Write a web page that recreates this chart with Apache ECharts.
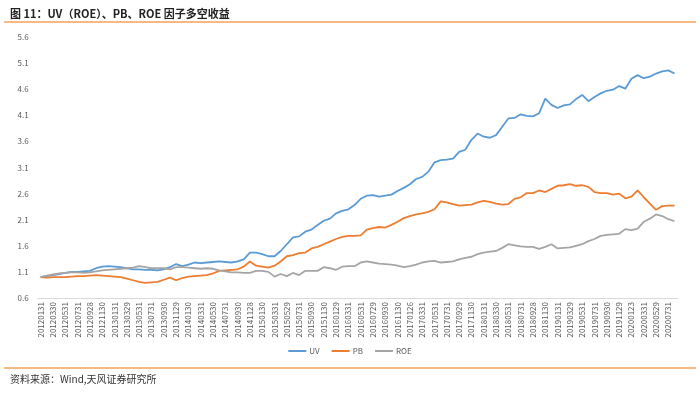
<!DOCTYPE html>
<html>
<head>
<meta charset="UTF-8">
<title>UV PB ROE</title>
<script src="https://cdn.jsdelivr.net/npm/echarts@6/dist/echarts.min.js"></script>
<style>
  html, body { margin: 0; padding: 0; background: #fff; }
  #main { width: 700px; height: 396px; }
</style>
</head>
<body>
<div id="main"></div>
<script type="text/javascript">
// month-end dates
var dates = [
  '20120131','20120229','20120330','20120427','20120531','20120629','20120731','20120831','20120928','20121031','20121130','20121231',
  '20130131','20130228','20130329','20130426','20130531','20130628','20130731','20130830','20130930','20131031','20131129','20131231',
  '20140130','20140228','20140331','20140430','20140530','20140630','20140731','20140829','20140930','20141031','20141128','20141231',
  '20150130','20150227','20150331','20150430','20150529','20150630','20150731','20150831','20150930','20151030','20151130','20151231',
  '20160129','20160229','20160331','20160429','20160531','20160630','20160729','20160831','20160930','20161031','20161130','20161230',
  '20170126','20170228','20170331','20170428','20170531','20170630','20170731','20170831','20170929','20171031','20171130','20171229',
  '20180131','20180228','20180330','20180427','20180531','20180629','20180731','20180831','20180928','20181031','20181130','20181228',
  '20190131','20190228','20190329','20190430','20190531','20190628','20190731','20190830','20190930','20191031','20191129','20191231',
  '20200123','20200228','20200331','20200430','20200529','20200630','20200731','20200831'
];

var uv = [
  1.00,1.02,1.04,1.06,1.08,1.10,1.10,1.11,1.12,1.17,1.20,1.21,
  1.20,1.19,1.17,1.15,1.15,1.14,1.14,1.13,1.15,1.19,1.25,1.21,
  1.24,1.28,1.27,1.28,1.29,1.30,1.29,1.28,1.30,1.34,1.47,1.47,
  1.44,1.40,1.40,1.50,1.63,1.76,1.78,1.87,1.91,2.00,2.08,2.12,
  2.22,2.27,2.30,2.38,2.50,2.56,2.57,2.54,2.56,2.58,2.65,2.71,
  2.78,2.88,2.92,3.02,3.20,3.24,3.25,3.27,3.40,3.44,3.63,3.75,
  3.69,3.67,3.72,3.88,4.04,4.05,4.12,4.09,4.08,4.14,4.42,4.30,
  4.24,4.29,4.31,4.41,4.49,4.37,4.45,4.52,4.57,4.59,4.66,4.61,
  4.80,4.87,4.81,4.84,4.90,4.94,4.96,4.90
];

var pb = [
  1.00,0.99,1.00,1.00,1.00,1.01,1.02,1.02,1.03,1.04,1.03,1.02,
  1.01,1.00,0.97,0.94,0.91,0.89,0.90,0.91,0.95,0.99,0.94,0.98,
  1.01,1.02,1.03,1.04,1.07,1.12,1.13,1.14,1.15,1.20,1.30,1.22,
  1.20,1.18,1.22,1.30,1.40,1.42,1.46,1.47,1.55,1.58,1.63,1.68,
  1.73,1.77,1.79,1.79,1.80,1.91,1.94,1.96,1.95,2.00,2.06,2.13,
  2.17,2.20,2.22,2.25,2.30,2.45,2.43,2.40,2.37,2.38,2.39,2.43,
  2.46,2.44,2.41,2.39,2.40,2.50,2.53,2.61,2.61,2.66,2.63,2.69,
  2.75,2.76,2.78,2.75,2.76,2.73,2.63,2.61,2.61,2.58,2.60,2.51,
  2.54,2.66,2.53,2.41,2.29,2.36,2.37,2.37
];

var roe = [
  1.00,1.03,1.05,1.07,1.08,1.09,1.09,1.08,1.09,1.11,1.13,1.14,
  1.15,1.16,1.17,1.18,1.21,1.19,1.17,1.17,1.17,1.15,1.19,1.19,
  1.18,1.17,1.16,1.17,1.16,1.13,1.11,1.09,1.09,1.08,1.08,1.12,
  1.12,1.10,1.01,1.06,1.02,1.08,1.04,1.12,1.12,1.12,1.19,1.17,
  1.14,1.20,1.21,1.21,1.28,1.30,1.28,1.26,1.25,1.24,1.22,1.19,
  1.21,1.24,1.28,1.30,1.31,1.28,1.29,1.30,1.34,1.37,1.39,1.44,
  1.47,1.49,1.50,1.56,1.63,1.61,1.59,1.58,1.58,1.54,1.58,1.63,
  1.55,1.56,1.57,1.60,1.63,1.69,1.73,1.79,1.81,1.82,1.83,1.92,
  1.90,1.93,2.06,2.12,2.20,2.17,2.11,2.07
];

var names = ['UV', 'PB', 'ROE'];
var colors = ['#5B9BD5', '#ED7D31', '#A5A5A5'];

var chart = echarts.init(document.getElementById('main'));
chart.setOption({
	animation : false,
	textStyle : {
		fontFamily : '"Noto Sans CJK SC", "DejaVu Sans", sans-serif'
	},
	title : {
		left : 5,
		top : 3,
		text : '{b|图 }{n|11：UV（ROE）、PB、ROE }{b|因子多空收益}',
		textStyle : {
			rich : {
				b : { fontSize : 11, fontWeight : 'bold', color : '#222' },
				n : { fontSize : 11, color : '#222' }
			}
		}
	},
	graphic : [ {
		type : 'line',
		shape : { x1 : 4, y1 : 22, x2 : 696, y2 : 22 },
		style : { stroke : '#F4A259', lineWidth : 1.5 }
	}, {
		type : 'line',
		shape : { x1 : 4, y1 : 368, x2 : 696, y2 : 368 },
		style : { stroke : '#F4A259', lineWidth : 1.5 }
	}, {
		type : 'text',
		left : 10,
		top : 374,
		style : {
			text : '资料来源：Wind,天风证券研究所',
			fontSize : 10,
			fill : '#333',
			fontFamily : '"Noto Sans CJK SC", sans-serif'
		}
	} ],
	color : colors,
	legend : {
		data : names,
		bottom : 36,
		left : 'center',
		itemWidth : 18,
		itemHeight : 2,
		itemGap : 12,
		icon : 'rect',
		textStyle : { fontSize : 8, color : '#595959', padding : [0, 0, 0, -2] }
	},
	grid : {
		left : 37.6,
		right : 22.4,
		top : 37,
		bottom : 98
	},
	xAxis : {
		type : 'category',
		boundaryGap : true,
		data : dates,
		axisLine : { lineStyle : { color : '#D9D9D9', width : 1 } },
		axisTick : { show : false },
		axisLabel : {
			interval : 1,
			rotate : 90,
			fontSize : 8,
			color : '#595959',
			margin : 4
		}
	},
	yAxis : {
		type : 'value',
		min : 0.6,
		max : 5.6,
		interval : 0.5,
		splitLine : { show : false },
		axisLine : { show : false },
		axisTick : { show : false },
		axisLabel : {
			fontSize : 8,
			color : '#595959',
			margin : 9,
			formatter : function(v) { return v.toFixed(1); }
		}
	},
	series : [ {
		name : 'UV',
		type : 'line',
		data : uv,
		symbol : 'none',
		lineStyle : { width : 1.8 }
	}, {
		name : 'PB',
		type : 'line',
		data : pb,
		symbol : 'none',
		lineStyle : { width : 1.8 }
	}, {
		name : 'ROE',
		type : 'line',
		data : roe,
		symbol : 'none',
		lineStyle : { width : 1.8 }
	} ]
});
</script>
</body>
</html>
